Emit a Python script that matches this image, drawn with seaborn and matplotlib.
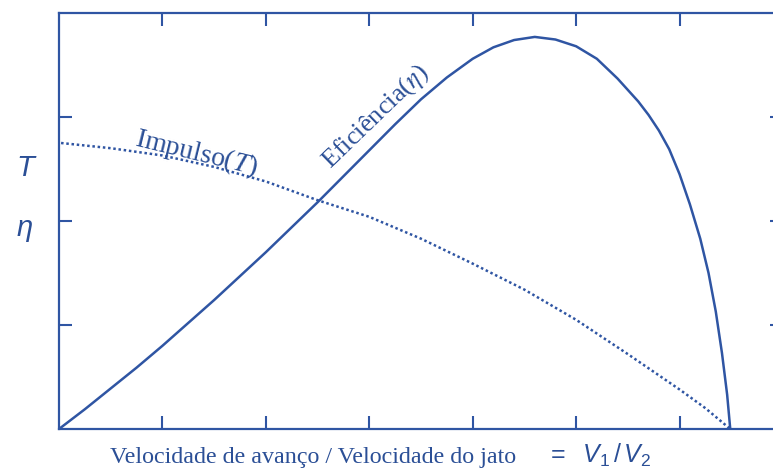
import numpy as np
import pandas as pd
import matplotlib
matplotlib.use("Agg")
import matplotlib.pyplot as plt
import seaborn as sns

# Efficiency curve (eta) (x and y in tick units)
eff_x = [0.0, 0.25, 0.5, 0.75, 1.0, 1.25, 1.5, 1.75, 2.0, 2.25, 2.5, 2.75,
         3.0, 3.25, 3.5, 3.75, 4.0, 4.2, 4.4, 4.6, 4.8, 5.0, 5.2, 5.4, 5.6,
         5.7, 5.8, 5.9, 6.0, 6.1, 6.2, 6.28, 6.35, 6.41, 6.46, 6.49]
eff_y = [0.0, 0.19, 0.39, 0.59, 0.80, 1.02, 1.24, 1.47, 1.70, 1.94, 2.18, 2.43,
         2.68, 2.93, 3.17, 3.38, 3.56, 3.67, 3.74, 3.77, 3.745, 3.68, 3.56, 3.37, 3.15,
         3.02, 2.87, 2.69, 2.45, 2.16, 1.83, 1.50, 1.13, 0.73, 0.33, 0.0]

# Thrust curve (T)
thr_x = [0.02, 0.5, 1.0, 1.5, 2.0, 2.5, 3.0, 3.5, 4.0, 4.5, 5.0, 5.5, 6.0, 6.25, 6.49]
thr_y = [2.75, 2.70, 2.63, 2.52, 2.38, 2.20, 2.04, 1.83, 1.59, 1.34, 1.05, 0.72,
         0.38, 0.20, 0.0]

x_ticks = [1, 2, 3, 4, 5, 6]
y_ticks = [1, 2, 3]

xlabel_text = "Velocidade de avanço / Velocidade do jato"
xlabel_math = r"$=\ \ V_1\,/\,V_2$"
label_T = "T"
label_eta = "η"
curve_T_label = r"Impulso($\mathit{T}$)"
curve_eta_label = r"Eficiência($\eta$)"

LINE = "#2f55a3"
TEXT = "#2b4f96"

sns.set_theme(style="white")
plt.rcParams["font.family"] = ["Liberation Serif", "DejaVu Serif"]
plt.rcParams["mathtext.fontset"] = "custom"
plt.rcParams["mathtext.rm"] = "Liberation Sans"
plt.rcParams["mathtext.it"] = "Liberation Sans:italic"

df_eff = pd.DataFrame({"x": eff_x, "y": eff_y})
df_thr = pd.DataFrame({"x": thr_x, "y": thr_y})

fig = plt.figure(figsize=(7.73, 4.68), dpi=100)
ax = fig.add_axes([59 / 773, 39 / 468, 724 / 773, 416 / 468])

sns.lineplot(data=df_eff, x="x", y="y", ax=ax, color=LINE, lw=1.8,
             estimator=None, sort=False)
sns.lineplot(data=df_thr, x="x", y="y", ax=ax, color=LINE, lw=1.8,
             estimator=None, sort=False, linestyle=(0, (1, 1.1)))

ax.set_xlim(0, 7)
ax.set_ylim(0, 4)
ax.set_xticks(x_ticks)
ax.set_yticks(y_ticks)
ax.set_xticklabels([])
ax.set_yticklabels([])
ax.set_xlabel("")
ax.set_ylabel("")
ax.tick_params(which="both", direction="in", length=9.5, width=1.5, color=LINE,
               top=True, right=True, bottom=True, left=True)
for s in ax.spines.values():
    s.set_color(LINE)
    s.set_linewidth(1.6)
    s.set_visible(True)

# curve labels
ax.text(0.72, 2.73, curve_T_label, rotation=-13.7, rotation_mode="anchor",
        ha="left", va="baseline", fontsize=20, color=TEXT, math_fontfamily="stix")
ax.text(2.62, 2.50, curve_eta_label, rotation=44, rotation_mode="anchor",
        ha="left", va="baseline", fontsize=19, color=TEXT, math_fontfamily="stix")

# y-axis side labels
fig.text(25 / 773, 1 - 168 / 468, label_T, ha="center", va="center", fontsize=21,
         color=TEXT, family="Liberation Sans", style="italic")
fig.text(25 / 773, 1 - 228 / 468, label_eta, ha="center", va="center", fontsize=21,
         color=TEXT, family="Liberation Sans", style="italic")

# x-axis label
fig.text(110 / 773, 1 - 463 / 468, xlabel_text, ha="left", va="baseline",
         fontsize=17.3, color=TEXT)
fig.text(546 / 773, 1 - 463 / 468, xlabel_math, ha="left", va="baseline",
         fontsize=18, color=TEXT)

fig.savefig("out.png", dpi=100)
